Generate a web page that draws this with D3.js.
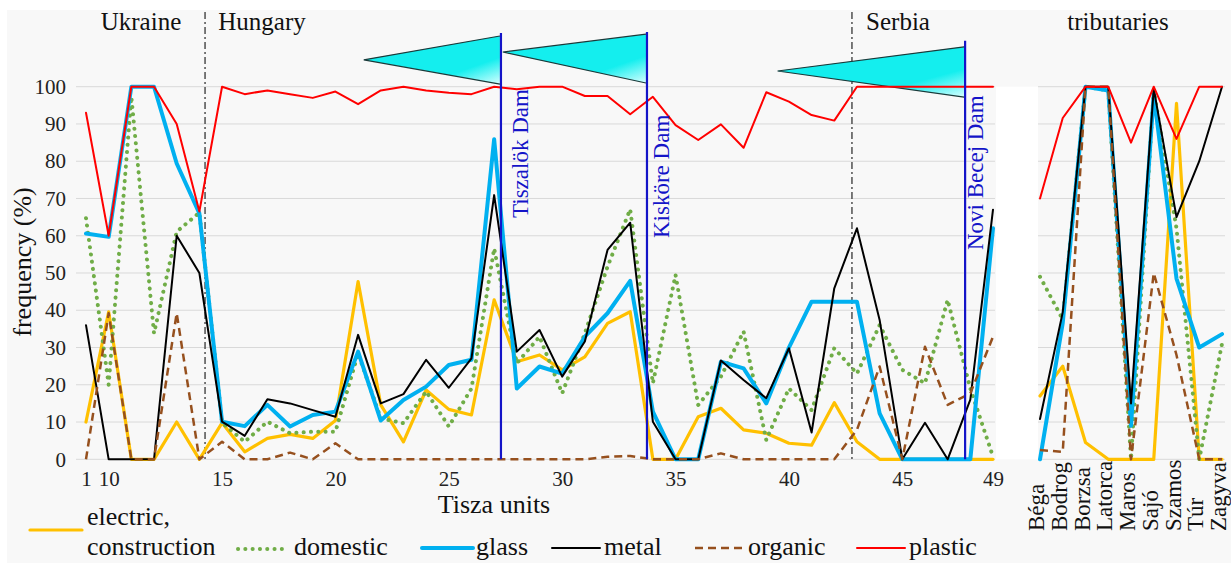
<!DOCTYPE html>
<html>
<head>
<meta charset="utf-8">
<script src="https://cdn.jsdelivr.net/npm/d3@7"></script>
<style>
  html, body { margin: 0; padding: 0; background: #ffffff; }
  svg { display: block; }
</style>
</head>
<body>
<svg id="chart" width="1231" height="563"></svg>
<script>
// ---------------- DATA ----------------
const units = ["1","10","11","12","13","14","15","16","17","18","19","20","21","22","23","24","25","26","27","28","29","30","31","32","33","34","35","36","37","38","39","40","41","42","43","44","45","46","47","48","49"];
const unitTickLabels = ["1","10","15","20","25","30","35","40","45","49"];

const electric = [10,39.6,0,0,10,0,9.8,2,5.6,6.7,5.6,10.4,47.7,14.6,4.7,18.6,13.4,11.9,42.8,26.2,28,24,27.5,36.5,39.6,0,0,11.4,13.7,7.9,7,4.3,3.8,15.2,4.7,0,0,0,0,0,0];
const domestic = [64.7,20,97.3,33.8,61.1,66.2,9.8,4.7,10.1,7,7.4,7.4,28.4,11,9.7,18.2,8.8,19,56.6,25.8,32.9,17.7,33.8,51.7,67.1,20.4,49.5,14.6,22.2,34.3,5.2,19,13.2,29.8,23,36,24,20.4,42.8,19,0.7];
const glass    = [60.6,59.7,100,100,79.4,66,10.1,8.9,14.6,8.8,11.9,12.8,28.9,10.4,15.9,19.5,25.3,26.7,85.9,19,24.9,23,32.9,39.2,47.9,12.8,0,0,26.2,24.4,15,30,42.3,42.3,42.3,12.3,0,0,0,0,62];
const metal    = [36,0,0,0,60,50,10.1,6.3,16.1,15,13.2,11.4,33.4,15,17.5,26.7,19.2,27.1,70.9,28.9,34.7,22.2,31.6,56.2,63.5,10.1,0,0,26.5,21.3,16.4,29.8,7.2,45.9,62,37.4,0,9.8,0,16,67];
const organic  = [0,39.2,0,0,39.2,0,4.7,0,0,1.8,0,4.3,0,0,0,0,0,0,0,0,0,0,0,0.7,0.9,0,0,0,1.6,0,0,0,0,0,7.9,24.9,0,30.2,14.6,17.7,32.9];
const plastic  = [93,60,100,100,90,66.5,100,98,99,98,97,98.7,95.3,99,100,99,98.4,98,100,99.3,100,100,97.5,97.5,92.6,97.3,89.7,85.7,89.9,83.6,98.5,96,92.4,90.9,100,100,100,100,100,100,100];

const tributaries = ["Béga","Bodrog","Borzsa","Latorca","Maros","Sajó","Szamos","Túr","Zagyva"];
const tribElectric = [17,25,4.5,0,0,0,95.5,0,0];
const tribDomestic = [49,37.5,100,99,0,99,62,0,31];
const tribGlass    = [0,36.6,100,99,9,98,48.5,30,33.6];
const tribMetal    = [10.8,39.5,100,100,15,99.5,65,80,100];
const tribOrganic  = [2.5,2,100,100,0,50,28,0,0];
const tribPlastic  = [70,91.6,100,100,85,100,86,100,100];

const seriesNames = ["electric, construction","domestic","glass","metal","organic","plastic"];
const yTicks = [0,10,20,30,40,50,60,70,80,90,100];

// country regions (label, boundary position in unit-index space)
const countryNames = ["Ukraine","Hungary","Serbia","tributaries"];
const countryBorders = [5.25, 33.78];

// dams (position in unit-index space, top of marker in % units)
const damNames = ["Tiszalök Dam","Kisköre Dam","Novi Becej Dam"];
const damPos = [18.3, 24.74, 38.77];
const damTop = [114.4, 114.7, 112.3];

// impoundment wedges: tip position/value, right top/bottom values
const wedgeTipPos = [12.25, 18.38, 30.5];
const wedgeTipVal = [107.2, 109.3, 104.2];
const wedgeTopVal = [113.6, 114.1, 110.7];
const wedgeBotVal = [100.7, 101.0, 97.2];

// ---------------- STYLES ----------------
const FONT = "'Liberation Serif', 'Times New Roman', Tinos, serif";
const styles = [
  {color:"#FFC000", width:3.2, dash:null, cap:"round"},
  {color:"#70AD47", width:4, dash:"0.1,7.2", cap:"round"},
  {color:"#00B0F0", width:4, dash:null, cap:"round"},
  {color:"#000000", width:2, dash:null, cap:"round"},
  {color:"#96501E", width:2.5, dash:"8,5", cap:"butt"},
  {color:"#FF0000", width:2, dash:null, cap:"round"}
];
const mainSeries = [electric, domestic, glass, metal, organic, plastic];
const tribSeries = [tribElectric, tribDomestic, tribGlass, tribMetal, tribOrganic, tribPlastic];

// ---------------- DRAW ----------------
const svg = d3.select("#chart");
const defs = svg.append("defs");
const grad = defs.append("linearGradient").attr("id","wedgeGrad")
  .attr("x1","0%").attr("y1","0%").attr("x2","100%").attr("y2","100%");
grad.append("stop").attr("offset","0%").attr("stop-color","#14EEEE");
grad.append("stop").attr("offset","72%").attr("stop-color","#14EEEE");
grad.append("stop").attr("offset","100%").attr("stop-color","#D6FFFF");

svg.append("rect").attr("x",7).attr("y",10).attr("width",1224).attr("height",553).attr("fill","#f8f8f8");

const x = d3.scalePoint().domain(units).range([86, 993]);
const xi = d3.scaleLinear().domain([0, units.length - 1]).range([86, 993]);
const xt = d3.scalePoint().domain(tributaries).range([1040, 1222]);
const y = d3.scaleLinear().domain([0, 100]).range([459.3, 86.7]);

// white gap between panels
svg.append("rect").attr("x",996).attr("y",y(100)).attr("width",42).attr("height",y(0)-y(100)).attr("fill","#ffffff");

// gridlines
const grid = svg.append("g");
grid.selectAll("line.gm").data(yTicks).join("line")
  .attr("x1",76).attr("x2",995).attr("y1",d=>y(d)).attr("y2",d=>y(d))
  .attr("stroke","#d9d9d9").attr("stroke-width",1);
grid.selectAll("line.gt").data(yTicks).join("line")
  .attr("x1",1038).attr("x2",1225).attr("y1",d=>y(d)).attr("y2",d=>y(d))
  .attr("stroke","#d9d9d9").attr("stroke-width",1);

// y axis
const yAxis = svg.append("g").attr("transform","translate(66,0)")
  .call(d3.axisLeft(y).tickValues(yTicks).tickSize(0).tickPadding(0));
yAxis.select(".domain").remove();
yAxis.selectAll("text").attr("font-size",21).attr("fill","#222");

svg.append("text").attr("transform","translate(31,262) rotate(-90)")
  .attr("text-anchor","middle").attr("font-size",26).attr("fill","#111").text("frequency (%)");

// x axis main
const xAxis = svg.append("g").attr("transform","translate(0,468)")
  .call(d3.axisBottom(x).tickValues(unitTickLabels).tickSize(0).tickPadding(0));
xAxis.select(".domain").remove();
xAxis.selectAll("text").attr("font-size",21).attr("fill","#222").attr("dy","0.85em");

svg.append("text").attr("x",494).attr("y",513).attr("text-anchor","middle")
  .attr("font-size",26).attr("fill","#111").text("Tisza units");

// x axis tributaries (rotated)
const tAxis = svg.append("g")
  .call(d3.axisBottom(xt).tickSize(0).tickPadding(0));
tAxis.select(".domain").remove();
tAxis.selectAll(".tick").attr("transform", d => `translate(${xt(d)+4},531)`);
tAxis.selectAll("text").attr("transform","rotate(-90)").attr("x",0).attr("y",0).attr("dy",0)
  .attr("text-anchor","start").attr("font-size",23).attr("fill","#111");

// country borders
svg.selectAll("line.border").data(countryBorders).join("line")
  .attr("x1",d=>xi(d)).attr("x2",d=>xi(d)).attr("y1",12).attr("y2",y(0))
  .attr("stroke","#444").attr("stroke-width",1.4).attr("stroke-dasharray","7,3,2,3");

const countryX = [141, 262, 898, 1118];
svg.selectAll("text.country").data(countryNames).join("text")
  .attr("x",(d,i)=>countryX[i]).attr("y",30).attr("text-anchor","middle")
  .attr("font-size",25).attr("fill","#111").text(d=>d);

// wedges
const wedges = wedgeTipPos.map((p,i)=>({tx:xi(p), ty:y(wedgeTipVal[i]), rx:xi(damPos[i])-1, top:y(wedgeTopVal[i]), bot:y(wedgeBotVal[i])}));
const wg = svg.append("g");
wg.selectAll("path.wfill").data(wedges).join("path")
  .attr("d",d=>`M${d.tx},${d.ty}L${d.rx},${d.top}L${d.rx},${d.bot}Z`)
  .attr("fill","url(#wedgeGrad)");
wg.selectAll("path.wedge").data(wedges).join("path")
  .attr("d",d=>`M${d.rx},${d.top}L${d.tx},${d.ty}L${d.rx},${d.bot}`)
  .attr("fill","none").attr("stroke","#1a3a3a").attr("stroke-width",1.1);

// series lines
const lineMain = d3.line().x((d,i)=>x(units[i])).y(d=>y(d));
const lineTrib = d3.line().x((d,i)=>xt(tributaries[i])).y(d=>y(d));
mainSeries.forEach((s,k)=>{
  const st = styles[k];
  svg.append("path").datum(s).attr("d",lineMain)
    .attr("fill","none").attr("stroke",st.color).attr("stroke-width",st.width)
    .attr("stroke-linejoin","round").attr("stroke-linecap",st.cap)
    .attr("stroke-dasharray",st.dash);
});
tribSeries.forEach((s,k)=>{
  const st = styles[k];
  svg.append("path").datum(s).attr("d",lineTrib)
    .attr("fill","none").attr("stroke",st.color).attr("stroke-width",st.width)
    .attr("stroke-linejoin","round").attr("stroke-linecap",st.cap)
    .attr("stroke-dasharray",st.dash);
});

// dams
svg.selectAll("line.dam").data(damPos).join("line")
  .attr("x1",d=>xi(d)).attr("x2",d=>xi(d)).attr("y1",(d,i)=>y(damTop[i])).attr("y2",y(0))
  .attr("stroke","#1414C8").attr("stroke-width",2.2);
const damLabelDx = [27, 22, 18];
const damLabelBottom = [218, 238, 250];
svg.selectAll("text.dam").data(damNames).join("text")
  .attr("transform",(d,i)=>`translate(${xi(damPos[i])+damLabelDx[i]},${damLabelBottom[i]}) rotate(-90)`)
  .attr("text-anchor","start").attr("font-size",23).attr("fill","#1414C8").text(d=>d);

// legend
const leg = svg.append("g");
const legItems = [
  {x1:30, x2:82, y:530},
  {x1:238, x2:286, y:549},
  {x1:422, x2:473, y:548},
  {x1:552, x2:600, y:548},
  {x1:695, x2:745, y:548},
  {x1:857, x2:905, y:548}
];
legItems.forEach((p,k)=>{
  const st = styles[k];
  leg.append("line").attr("x1",p.x1).attr("x2",p.x2).attr("y1",p.y).attr("y2",p.y)
    .attr("stroke",st.color).attr("stroke-width",st.width).attr("stroke-linecap",st.cap)
    .attr("stroke-dasharray",st.dash);
});
const legText = leg.append("text").attr("x",87).attr("y",525).attr("font-size",26).attr("fill","#111");
const parts = seriesNames[0].split(" ");
legText.append("tspan").attr("x",87).attr("y",525).text(parts[0]);
legText.append("tspan").attr("x",87).attr("y",555).text(parts[1]);
const legTextX = [null, 294, 476, 604, 748, 909];
seriesNames.slice(1).forEach((n,k)=>{
  leg.append("text").attr("x",legTextX[k+1]).attr("y",555).attr("font-size",26).attr("fill","#111").text(n);
});

// force serif font on every text
svg.selectAll("text").style("font-family", FONT);
</script>
</body>
</html>
